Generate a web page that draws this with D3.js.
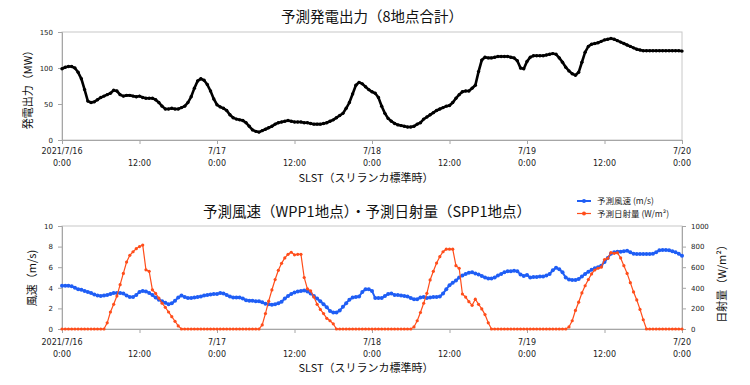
<!DOCTYPE html>
<html>
<head>
<meta charset="utf-8">
<script src="https://cdn.jsdelivr.net/npm/d3@7"></script>
<style>
  body { margin: 0; background: #fff; }
  text { font-family: "DejaVu Sans", sans-serif; }
  .jp { font-family: "Noto Sans CJK JP", sans-serif; }
</style>
</head>
<body>
<svg id="canvas" width="750" height="385"></svg>
<script>
// 30-minute steps from 2021/7/16 0:00 to 7/20 0:00 (hours)
let stepHours = 0.5;

// 予測発電出力 (MW)
let powerMW = [
  99,101,102,102,100,94,85,70,54,52,53,56,59,61,63,65,69,68,63,61,62,62,61,60,
  61,59,58,58,58,56,52,47,43,43,44,43,43,45,47,52,60,72,82,85,83,77,68,57,
  49,46,44,41,35,31,29,28,27,24,19,14,12,11,13,15,17,19,22,24,25,26,27,26,
  25,25,25,24,24,23,22,22,22,23,24,26,28,31,34,37,44,52,64,76,80,78,74,70,
  67,65,59,47,37,30,26,23,21,20,19,18,18,19,22,24,29,32,35,38,41,43,45,47,
  48,52,58,63,67,68,68,72,76,95,111,115,114,114,115,116,116,116,116,115,114,110,100,99,
  109,115,117,117,117,117,118,119,120,119,114,108,101,96,92,90,94,108,122,130,133,134,135,137,
  139,140,141,140,138,136,134,132,130,128,126,125,124,124,124,124,124,124,124,124,124,124,124,124,
  123.5
];

// 予測風速 (m/s)
let windSpeed = [
  4.2,4.2,4.2,4.15,4.0,3.85,3.8,3.7,3.6,3.5,3.35,3.25,3.2,3.25,3.3,3.4,3.5,3.5,3.5,3.45,3.25,3.1,3.1,3.3,
  3.6,3.7,3.65,3.5,3.3,3.05,2.85,2.7,2.55,2.4,2.5,2.75,3.05,3.25,3.1,3.0,3.0,3.05,3.1,3.15,3.25,3.3,3.35,3.4,
  3.4,3.5,3.45,3.3,3.15,3.05,3.05,3.05,2.95,2.8,2.75,2.75,2.7,2.7,2.6,2.45,2.4,2.35,2.4,2.5,2.65,2.95,3.2,3.4,
  3.55,3.65,3.7,3.75,3.65,3.45,3.2,2.95,2.7,2.4,2.1,1.75,1.6,1.6,1.8,2.15,2.5,2.85,3.05,3.1,3.15,3.6,3.85,3.85,
  3.7,3.0,3.0,3.0,3.2,3.4,3.45,3.3,3.3,3.25,3.2,3.15,3.0,2.9,2.9,3.05,3.1,3.0,3.05,3.1,3.1,3.15,3.45,3.85,
  4.25,4.5,4.7,5.0,5.2,5.35,5.45,5.5,5.4,5.3,5.15,5.0,4.9,4.9,5.0,5.2,5.35,5.5,5.6,5.6,5.65,5.6,5.3,5.15,
  5.25,5.0,5.05,5.05,5.1,5.1,5.2,5.35,5.7,5.95,5.8,5.5,5.0,4.8,4.75,4.75,4.85,5.1,5.35,5.55,5.75,5.9,6.0,6.15,
  6.5,6.9,7.3,7.45,7.5,7.5,7.55,7.6,7.45,7.3,7.28,7.28,7.28,7.28,7.28,7.3,7.45,7.65,7.68,7.68,7.65,7.55,7.45,7.3,
  7.1
];

// 予測日射量 (W/m2)
let solar = [
  0,0,0,0,0,0,0,0,0,0,0,0,0,0,60,165,240,320,430,540,650,715,750,780,
  800,815,575,560,380,345,300,250,210,165,120,75,30,0,0,0,0,0,0,0,0,0,0,0,
  0,0,0,0,0,0,0,0,0,0,0,0,0,0,40,150,270,379,480,570,638,690,725,745,
  720,725,725,500,390,370,310,240,190,150,104,80,50,0,0,0,0,0,0,0,0,0,0,0,
  0,0,0,0,0,0,0,0,0,0,0,0,0,20,80,160,250,346,476,560,640,702,750,775,
  775,775,615,590,340,310,265,230,290,240,195,140,60,0,0,0,0,0,0,0,0,0,0,0,
  0,0,0,0,0,0,0,0,0,0,0,0,0,20,80,180,260,350,420,480,535,573,590,600,
  675,686,741,735,740,690,615,540,450,360,282,190,90,0,0,0,0,0,0,0,0,0,0,0,
  0
];

let tickHours = [0, 12, 24, 36, 48, 60, 72, 84, 96];
let tickDate = ['2021/7/16', '', '7/17', '', '7/18', '', '7/19', '', '7/20'];
let tickTime = ['0:00', '12:00', '0:00', '12:00', '0:00', '12:00', '0:00', '12:00', '0:00'];

let powerTicks = [0, 50, 100, 150];
let windTicks = [0, 2, 4, 6, 8, 10];
let solarTicks = [0, 200, 400, 600, 800, 1000];

let canvas = d3.select('#canvas');

let left = 62, right = 682;
let x = d3.scaleLinear().domain([0, 96]).range([left, right]);

let drawXAxis = (g, y0, firstBase) => {
    g.append('g')
        .attr('transform', 'translate(0,' + y0 + ')')
        .call(d3.axisBottom(x).tickValues(tickHours).tickSize(4).tickFormat(''))
        .call(a => a.select('.domain').attr('stroke', '#a6a6a6'))
        .call(a => a.selectAll('.tick line').attr('stroke', '#a6a6a6'));

    tickHours.forEach((h, i) => {
        let t = g.append('text')
            .attr('x', x(h))
            .attr('text-anchor', 'middle')
            .attr('font-size', 8)
            .attr('fill', '#222');
        t.append('tspan').attr('x', x(h)).attr('y', firstBase).text(tickDate[i]);
        t.append('tspan').attr('x', x(h)).attr('y', firstBase + 12).text(tickTime[i]);
    });
};

let styleYAxis = (a) => {
    a.select('.domain').attr('stroke', '#a6a6a6');
    a.selectAll('.tick line').attr('stroke', '#a6a6a6');
    a.selectAll('.tick text').attr('font-size', 7).attr('fill', '#222')
        .attr('font-family', '"DejaVu Sans", sans-serif');
};

// ---------- top chart ----------
let top1 = 32, bot1 = 140;
let yPower = d3.scaleLinear().domain([0, 150]).range([bot1, top1]);

let g1 = canvas.append('g');

g1.append('rect')
    .attr('x', left).attr('y', top1)
    .attr('width', right - left).attr('height', bot1 - top1)
    .attr('fill', 'none').attr('stroke', '#c8c8c8');

g1.append('g')
    .attr('transform', 'translate(' + left + ',0)')
    .call(d3.axisLeft(yPower).tickValues(powerTicks).tickSize(4).tickPadding(5).tickFormat(d3.format('d')))
    .call(styleYAxis);

drawXAxis(g1, bot1, 154);

let powerLine = d3.line()
    .x((d, i) => x(i * stepHours))
    .y(d => yPower(d));

g1.append('path')
    .datum(powerMW)
    .attr('d', powerLine)
    .attr('fill', 'none')
    .attr('stroke', '#000')
    .attr('stroke-width', 2.6);

g1.selectAll('circle.pw')
    .data(powerMW)
    .enter()
    .append('circle')
    .attr('class', 'pw')
    .attr('cx', (d, i) => x(i * stepHours))
    .attr('cy', d => yPower(d))
    .attr('r', 1.7)
    .attr('fill', '#000');

g1.append('text').attr('class', 'jp')
    .attr('x', 372).attr('y', 22)
    .attr('text-anchor', 'middle').attr('font-size', 14.5).attr('fill', '#111')
    .text('予測発電出力（8地点合計）');

g1.append('text').attr('class', 'jp')
    .attr('transform', 'translate(32,87) rotate(-90)')
    .attr('text-anchor', 'middle').attr('font-size', 11).attr('fill', '#111')
    .text('発電出力（MW）');

g1.append('text').attr('class', 'jp')
    .attr('x', 366).attr('y', 182)
    .attr('text-anchor', 'middle').attr('font-size', 11).attr('fill', '#111')
    .text('SLST（スリランカ標準時）');

// ---------- bottom chart ----------
let top2 = 226, bot2 = 329;
let yWind = d3.scaleLinear().domain([0, 10]).range([bot2, top2]);
let ySolar = d3.scaleLinear().domain([0, 1000]).range([bot2, top2]);

let blue = '#1f5ef5';
let orange = '#ff4d1a';

let g2 = canvas.append('g');

g2.append('rect')
    .attr('x', left).attr('y', top2)
    .attr('width', right - left).attr('height', bot2 - top2)
    .attr('fill', 'none').attr('stroke', '#c8c8c8');

g2.append('g')
    .attr('transform', 'translate(' + left + ',0)')
    .call(d3.axisLeft(yWind).tickValues(windTicks).tickSize(4).tickPadding(5).tickFormat(d3.format('d')))
    .call(styleYAxis);

g2.append('g')
    .attr('transform', 'translate(' + right + ',0)')
    .call(d3.axisRight(ySolar).tickValues(solarTicks).tickSize(4).tickPadding(5).tickFormat(d3.format('d')))
    .call(styleYAxis);

drawXAxis(g2, bot2, 345);

let windLine = d3.line().x((d, i) => x(i * stepHours)).y(d => yWind(d));
let solarLine = d3.line().x((d, i) => x(i * stepHours)).y(d => ySolar(d));

g2.append('path')
    .datum(windSpeed)
    .attr('d', windLine)
    .attr('fill', 'none')
    .attr('stroke', blue)
    .attr('stroke-width', 2);

g2.selectAll('circle.ws')
    .data(windSpeed)
    .enter()
    .append('circle')
    .attr('class', 'ws')
    .attr('cx', (d, i) => x(i * stepHours))
    .attr('cy', d => yWind(d))
    .attr('r', 2)
    .attr('fill', blue);

g2.append('path')
    .datum(solar)
    .attr('d', solarLine)
    .attr('fill', 'none')
    .attr('stroke', orange)
    .attr('stroke-width', 1.2);

g2.selectAll('circle.sr')
    .data(solar)
    .enter()
    .append('circle')
    .attr('class', 'sr')
    .attr('cx', (d, i) => x(i * stepHours))
    .attr('cy', d => ySolar(d))
    .attr('r', 1.6)
    .attr('fill', orange);

g2.append('text').attr('class', 'jp')
    .attr('x', 367).attr('y', 217)
    .attr('text-anchor', 'middle').attr('font-size', 14.5).attr('fill', '#111')
    .text('予測風速（WPP1地点）・予測日射量（SPP1地点）');

g2.append('text').attr('class', 'jp')
    .attr('transform', 'translate(36,278) rotate(-90)')
    .attr('text-anchor', 'middle').attr('font-size', 11).attr('fill', '#111')
    .text('風速（m/s)');

g2.append('text').attr('class', 'jp')
    .attr('transform', 'translate(726,281) rotate(-90)')
    .attr('text-anchor', 'middle').attr('font-size', 11).attr('fill', '#111')
    .text('日射量（W/m²）');

g2.append('text').attr('class', 'jp')
    .attr('x', 366).attr('y', 372)
    .attr('text-anchor', 'middle').attr('font-size', 11).attr('fill', '#111')
    .text('SLST（スリランカ標準時）');

// legend
let legendItems = [
    { label: '予測風速 (m/s)', color: blue, w: 2 },
    { label: '予測日射量 (W/m²)', color: orange, w: 1.2 }
];

legendItems.forEach((item, i) => {
    let ly = 201 + i * 12.5;
    g2.append('line')
        .attr('x1', 577).attr('x2', 591)
        .attr('y1', ly).attr('y2', ly)
        .attr('stroke', item.color).attr('stroke-width', item.w);
    g2.append('circle')
        .attr('cx', 584).attr('cy', ly).attr('r', 2)
        .attr('fill', item.color);
    g2.append('text').attr('class', 'jp')
        .attr('x', 597).attr('y', ly + 3)
        .attr('font-size', 8.5).attr('fill', '#222')
        .text(item.label);
});
</script>
</body>
</html>
